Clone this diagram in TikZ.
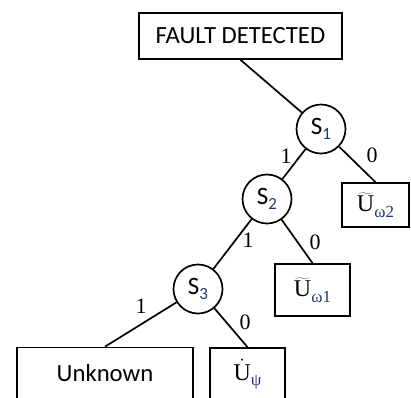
\documentclass[tikz,border=0pt]{standalone}
\usepackage{fontspec}
\setmainfont{Carlito}
\newfontfamily\serifface{Liberation Serif}
\definecolor{subink}{rgb}{0.12,0.22,0.42}
% lowered, smaller index after a symbol
\newcommand{\lowidx}[1]{{\fontsize{17}{17}\selectfont\raisebox{-5.5pt}{\textcolor{subink}{#1}}}}
% serif U with a wide tilde or a dot on top
\newcommand{\tildeU}{$\widetilde{\hbox{\serifface U}}$}
\newcommand{\dotU}{$\dot{\hbox{\serifface U}}$}
\begin{document}
\begin{tikzpicture}[x=1pt,y=-1pt,
  every node/.style={inner sep=0pt},
  edge/.style={line width=1.7pt},
  box/.style={draw,line width=1.7pt,rectangle},
  test/.style={draw,line width=1.7pt,circle,minimum size=49pt,font=\fontsize{25}{25}\selectfont},
  leaf/.style={box,font=\serifface\fontsize{24}{24}\selectfont},
  branch/.style={font=\serifface\fontsize{22}{22}\selectfont}]
\useasboundingbox (0,0) rectangle (411,397);
\clip (0,0) rectangle (411,397);

% decision nodes and outcomes
\node[box,minimum width=203pt,minimum height=46pt,font=\fontsize{24.7}{24.7}\selectfont]
  (fd) at (240.5,36) {FAULT DETECTED};
\node[test] (s1) at (321,129) {S\lowidx{1}};
\node[test] (s2) at (267,199) {S\lowidx{2}};
\node[test] (s3) at (198,289) {S\lowidx{3}};
\node[leaf,minimum width=67pt,minimum height=44pt] (u2) at (375.5,205) {\tildeU\lowidx{ω2}};
\node[leaf,minimum width=75pt,minimum height=52pt] (u1) at (312.5,290) {\tildeU\lowidx{ω1}};
\node[leaf,minimum width=75pt,minimum height=52pt] (ud) at (247.5,374) {\dotU\lowidx{ψ}};
\node[box,minimum width=176pt,minimum height=52pt,font=\fontsize{24.7}{24.7}\selectfont]
  (unk) at (105,373.5) {Unknown};

% branches
\draw[edge] (fd.south) -- (s1);
\draw[edge] (s1) -- (s2);
\draw[edge] (s1) -- (u2.north);
\draw[edge] (s2) -- (s3);
\draw[edge] (s2) -- (u1.north);
\draw[edge] (s3) -- (unk.north);
\draw[edge] (s3) -- (ud.north);

% branch values
\node[branch] (b11) at (286,156) {1};
\node[branch] (b10) at (372,155) {0};
\node[branch] (b21) at (248,240) {1};
\node[branch] (b20) at (315,242) {0};
\node[branch] (b31) at (141,306) {1};
\node[branch] (b30) at (245,322) {0};
\end{tikzpicture}
\end{document}
